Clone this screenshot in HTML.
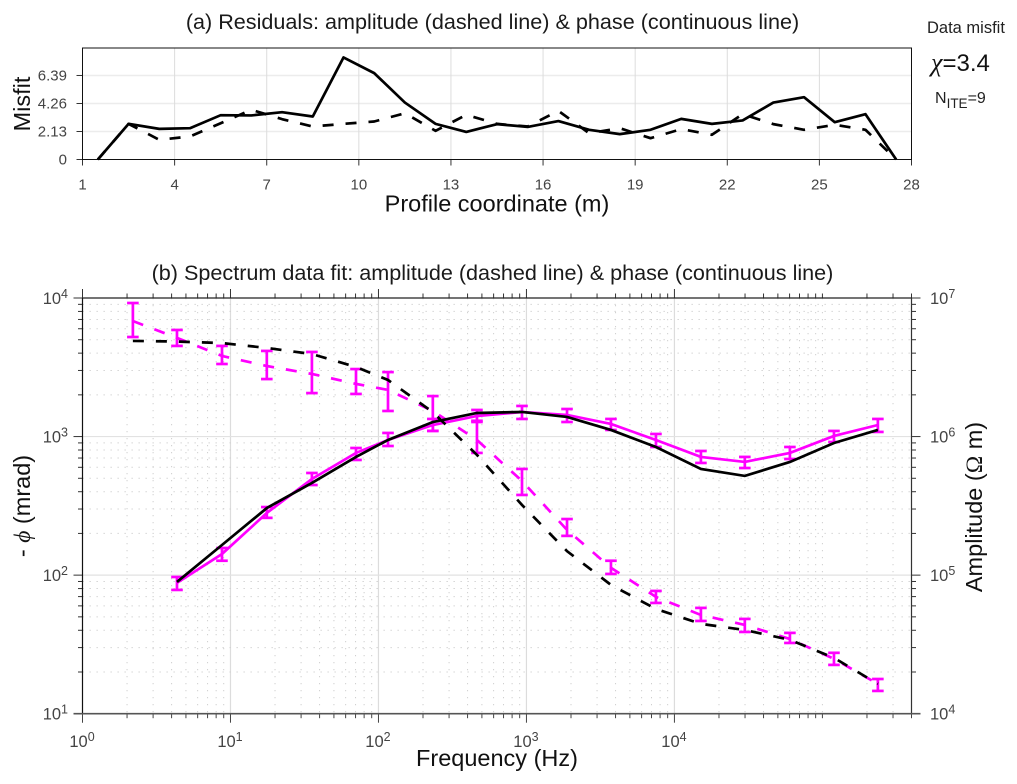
<!DOCTYPE html>
<html lang="en">
<head>
<meta charset="utf-8">
<title>Residuals and spectrum data fit</title>
<style>
html,body{margin:0;padding:0;background:#fff;width:1017px;height:784px;overflow:hidden}
svg{display:block}
text{font-family:"Liberation Sans",sans-serif}
</style>
</head>
<body>
<svg id="fig" width="1017" height="784" viewBox="0 0 1017 784" xmlns="http://www.w3.org/2000/svg">
  <rect x="0" y="0" width="1017" height="784" fill="#fff"/>
  <g id="panelA"></g>
  <g id="panelB"></g>

  <text x="492.5" y="29" font-size="21.6" text-anchor="middle" fill="#1a1a1a">(a) Residuals: amplitude (dashed line) &amp; phase (continuous line)</text>
  <text transform="translate(30,104) rotate(-90)" font-size="23.5" text-anchor="middle" fill="#111">Misfit</text>
  <text x="497" y="211.5" font-size="23.5" text-anchor="middle" fill="#111">Profile coordinate (m)</text>

  <text x="927" y="33" font-size="16.5" fill="#222">Data misfit</text>
  <text x="931" y="71" font-size="24" fill="#111"><tspan font-family="'Liberation Serif',serif" font-style="italic" font-size="26">χ</tspan>=3.4</text>
  <text x="935" y="103" font-size="16" fill="#222">N<tspan font-size="13.5" dy="5">ITE</tspan><tspan dy="-5">=9</tspan></text>

  <text x="492.5" y="280" font-size="21.6" text-anchor="middle" fill="#1a1a1a">(b) Spectrum data fit: amplitude (dashed line) &amp; phase (continuous line)</text>
  <text transform="translate(30,506) rotate(-90)" font-size="23.5" text-anchor="middle" fill="#111">- <tspan font-family="'Liberation Serif',serif" font-style="italic">ϕ</tspan> (mrad)</text>
  <text transform="translate(982,507) rotate(-90)" font-size="23.5" text-anchor="middle" fill="#111">Amplitude (<tspan font-family="'Liberation Serif',serif">Ω</tspan> m)</text>
  <text x="497" y="766" font-size="23.5" text-anchor="middle" fill="#111">Frequency (Hz)</text>
</svg>

<script>
// ---- Panel (a) data ----
var profileCoords = [1.5,2.5,3.5,4.5,5.5,6.5,7.5,8.5,9.5,10.5,11.5,12.5,13.5,14.5,15.5,16.5,17.5,18.5,19.5,20.5,21.5,22.5,23.5,24.5,25.5,26.5,27.5];
var phaseMisfit = [0,2.71,2.33,2.38,3.37,3.35,3.60,3.27,7.76,6.57,4.33,2.71,2.10,2.69,2.48,2.92,2.26,1.93,2.26,3.09,2.71,2.97,4.33,4.74,2.84,3.45,0];
var amplitudeMisfit = [0,2.71,1.50,1.75,2.76,3.78,3.07,2.51,2.71,2.89,3.52,2.18,3.40,2.71,2.51,3.70,2.00,2.38,1.62,2.31,1.88,3.45,2.69,2.26,2.64,2.26,0];
var profileTicks = [1,4,7,10,13,16,19,22,25,28];
var misfitTicks = [0,2.13,4.26,6.39];

// ---- Panel (b) data ----
var ampFreq = [2.19,4.35,8.76,17.6,35.5,70.5,116,233,463,933,1880,3724,7500,15100,29900,60300,119700,237000];
var ampObserved = [6.82e6,5.15e6,3.82e6,3.23e6,2.83e6,2.40e6,2.17e6,1.53e6,9.45e5,4.78e5,2.12e5,1.13e5,6.96e4,5.16e4,4.37e4,3.46e4,2.49e4,1.64e4];
var ampUpper = [9.20e6,5.88e6,4.51e6,4.15e6,4.08e6,3.07e6,2.92e6,1.96e6,1.30e6,5.84e5,2.54e5,1.27e5,7.69e4,5.80e4,4.83e4,3.83e4,2.75e4,1.78e4];
var ampLower = [5.23e6,4.51e6,3.34e6,2.60e6,2.06e6,2.03e6,1.53e6,1.10e6,7.62e5,3.79e5,1.92e5,1.02e5,6.30e4,4.67e4,3.89e4,3.24e4,2.25e4,1.46e4];
var ampModel = [4.90e6,4.85e6,4.73e6,4.36e6,3.94e6,3.18e6,2.56e6,1.50e6,7.37e5,3.21e5,1.49e5,8.50e4,5.70e4,4.45e4,4.02e4,3.41e4,2.53e4,1.64e4];

var phaseFreq = [4.35,8.76,17.6,35.5,70.5,116,233,463,933,1880,3724,7500,15100,29900,60300,119700,237000];
var phaseObserved = [87.9,142,281,494,762,945,1212,1408,1505,1432,1233,945,713,656,762,1010,1212];
var phaseUpper = [97.0,157,310,546,827,1062,1340,1556,1663,1581,1340,1044,787,713,841,1098,1340];
var phaseLower = [78.2,127,259,447,678,855,1098,1274,1340,1274,1116,841,645,593,689,914,1080];
var phaseModel = [89.3,165,305,463,713,945,1274,1480,1505,1385,1116,841,584,520,656,899,1116];

var freqDecades = [0,1,2,3,4];
var phaseDecades = [1,2,3,4];
var ampDecades = [4,5,6,7];

// ---- Axis functions ----
var A = {l:82.5, r:911.5, t:48, b:159.5, xMin:1, xMax:28, yMax:8.48};
var B = {l:82.5, r:911.5, t:298, b:713.7, xMaxLog:5.602};
function xA(v){ return A.l + (v - A.xMin) * (A.r - A.l) / (A.xMax - A.xMin); }
function yA(v){ return A.b - v * (A.b - A.t) / A.yMax; }
function xB(f){ return B.l + Math.log10(f) * (B.r - B.l) / B.xMaxLog; }
function yPhase(v){ return B.b - (Math.log10(v) - 1) * (B.b - B.t) / 3; }
function yAmp(v){ return B.b - (Math.log10(v) - 4) * (B.b - B.t) / 3; }

var NS = 'http://www.w3.org/2000/svg';
var gA = document.getElementById('panelA');
var gB = document.getElementById('panelB');

function mk(parent, tag, attrs){
  var e = document.createElementNS(NS, tag);
  for (var k in attrs) e.setAttribute(k, attrs[k]);
  parent.appendChild(e);
  return e;
}
function seg(parent, x1, y1, x2, y2, color, w, dash){
  var a = {x1:x1, y1:y1, x2:x2, y2:y2, stroke:color, 'stroke-width':w};
  if (dash) a['stroke-dasharray'] = dash;
  return mk(parent, 'line', a);
}
function polyPath(xs, ys, fx, fy){
  var d = '';
  for (var i = 0; i < xs.length; i++) d += (i ? 'L' : 'M') + fx(xs[i]).toFixed(2) + ' ' + fy(ys[i]).toFixed(2);
  return d;
}
function powerLabel(parent, x, y, exp, anchor){
  var t = mk(parent, 'text', {x:x, y:y, 'font-size':16.5, fill:'#444', 'text-anchor':anchor});
  t.appendChild(document.createTextNode('10'));
  var s = mk(t, 'tspan', {'font-size':12.5, dy:-6});
  s.textContent = exp;
  return t;
}
var el, i, j;

// ---- Panel (a) ----
misfitTicks.forEach(function(v){
  if (v > 0) {
    el = seg(gA, A.l, yA(v), A.r, yA(v), '#ececec', 1.5);
    
    
  }
  el = seg(gA, A.l - 6, yA(v), A.l, yA(v), '#333', 1);
  
  
  el = mk(gA, 'text', {x:67, y:yA(v) + 5, 'font-size':15, fill:'#444', 'text-anchor':'end'});
  el.textContent = String(v);
  
  
});
profileTicks.forEach(function(v){
  if (v > A.xMin && v < A.xMax) {
    el = seg(gA, xA(v), A.t, xA(v), A.b, '#dcdcdc', 1);
    
    
  }
  el = seg(gA, xA(v), A.b, xA(v), A.b + 6, '#333', 1);
  
  
  el = mk(gA, 'text', {x:xA(v), y:189.5, 'font-size':15, fill:'#444', 'text-anchor':'middle'});
  el.textContent = String(v);
  
  
});
el = mk(gA, 'rect', {x:A.l, y:A.t, width:A.r - A.l, height:A.b - A.t, fill:'none', stroke:'#111', 'stroke-width':1});


el = mk(gA, 'path', {d:polyPath(profileCoords, amplitudeMisfit, xA, yA), fill:'none', stroke:'#000', 'stroke-width':2.7, 'stroke-dasharray':'11 12', 'stroke-linejoin':'round'});


el = mk(gA, 'path', {d:polyPath(profileCoords, phaseMisfit, xA, yA), fill:'none', stroke:'#000', 'stroke-width':2.7, 'stroke-linejoin':'round'});



// ---- Panel (b) grid ----
var DOT = '1.3 5.7';
for (i = 0; i < 6; i++) {
  for (j = 1; j <= 9; j++) {
    var fv = j * Math.pow(10, i);
    if (fv > 4e5) continue;
    var major = (j === 1 && i <= 4);
    var vx = xB(fv);
    if (j === 1 && i === 0) {
      // left frame coincides
    } else if (major) {
      el = seg(gB, vx, B.t, vx, B.b, '#dcdcdc', 1.2);
      
      
    } else {
      el = seg(gB, vx, B.t, vx, B.b, '#cfcfcf', 1, DOT);
      
      
    }
    var len = major ? 9 : 4.5;
    el = seg(gB, vx, B.b, vx, B.b + len, '#444', 1);
    
    
    el = seg(gB, vx, B.t - len, vx, B.t, '#333', 1);
    
    
  }
}
for (i = 1; i <= 3; i++) {
  for (j = 1; j <= 10; j++) {
    if (j === 10 && i !== 3) continue;
    var pv = j * Math.pow(10, i);
    var hy = yPhase(pv);
    var isMaj = (j === 1 || j === 10);
    if (j === 1 && i > 1) {
      el = seg(gB, B.l, hy, B.r, hy, '#e2e2e2', 1.2);
      
      
    } else if (j > 1 && j < 10) {
      el = seg(gB, B.l, hy, B.r, hy, '#cfcfcf', 1, DOT);
      
      
    }
    var tl = isMaj ? 9 : 4.5;
    el = seg(gB, B.l - tl, hy, B.l, hy, '#333', 1);
    
    
    el = seg(gB, B.r, hy, B.r + tl, hy, '#333', 1);
    
    
  }
}

// ---- Panel (b) frame ----
el = seg(gB, B.l, B.t, B.r, B.t, '#222', 1.2);


el = seg(gB, B.l, B.t, B.l, B.b, '#111', 1.2);


el = seg(gB, B.r, B.t, B.r, B.b, '#333', 1.2);


el = seg(gB, B.l - 9, B.b, B.r + 9, B.b, '#555', 1.6);



// ---- Panel (b) tick labels ----
freqDecades.forEach(function(e){
  el = powerLabel(gB, xB(Math.pow(10, e)) - 0.5, 747, e, 'middle');
  
  
});
phaseDecades.forEach(function(e){
  el = powerLabel(gB, 68, yPhase(Math.pow(10, e)) + 6, e, 'end');
  
  
});
ampDecades.forEach(function(e){
  el = powerLabel(gB, 930, yAmp(Math.pow(10, e)) + 6, e, 'start');
  
  
});

// ---- Panel (b) series ----
var MAG = '#ff00ff';
function errorBars(freqs, up, lo, fy, name){
  for (var k = 0; k < freqs.length; k++) {
    var bx = xB(freqs[k]), hw = 5.8;
    var b = seg(gB, bx, fy(up[k]), bx, fy(lo[k]), MAG, 2.7);
    
    
    var c1 = seg(gB, bx - hw, fy(up[k]), bx + hw, fy(up[k]), MAG, 2.7);
    
    
    var c2 = seg(gB, bx - hw, fy(lo[k]), bx + hw, fy(lo[k]), MAG, 2.7);
    
    
  }
}
el = mk(gB, 'path', {d:polyPath(ampFreq, ampObserved, xB, yAmp), fill:'none', stroke:MAG, 'stroke-width':2.7, 'stroke-dasharray':'11 12'});


errorBars(ampFreq, ampUpper, ampLower, yAmp, 'amplitude');
el = mk(gB, 'path', {d:polyPath(phaseFreq, phaseObserved, xB, yPhase), fill:'none', stroke:MAG, 'stroke-width':2.7});


errorBars(phaseFreq, phaseUpper, phaseLower, yPhase, 'phase');
el = mk(gB, 'path', {d:polyPath(ampFreq, ampModel, xB, yAmp), fill:'none', stroke:'#000', 'stroke-width':2.7, 'stroke-dasharray':'11 12'});


el = mk(gB, 'path', {d:polyPath(phaseFreq, phaseModel, xB, yPhase), fill:'none', stroke:'#000', 'stroke-width':2.7});


</script>
</body>
</html>
